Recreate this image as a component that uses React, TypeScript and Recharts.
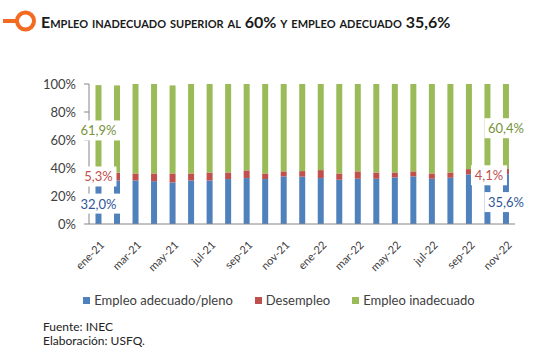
import React from 'react'
import { BarChart, Bar, XAxis, YAxis, LabelList } from 'recharts'

const months = [
  'ene-21', 'feb-21', 'mar-21', 'abr-21', 'may-21', 'jun-21', 'jul-21', 'ago-21', 'sep-21', 'oct-21', 'nov-21', 'dic-21',
  'ene-22', 'feb-22', 'mar-22', 'abr-22', 'may-22', 'jun-22', 'jul-22', 'ago-22', 'sep-22', 'oct-22', 'nov-22',
]
const adecuado = [32.0, 31.1, 31.1, 30.6, 29.7, 31.1, 31.1, 32.1, 32.8, 32.1, 34.0, 33.8, 32.8, 31.6, 32.3, 32.3, 33.3, 34.0, 32.3, 33.0, 35.4, 35.4, 35.6]
const desempleo = [5.3, 5.5, 5.0, 5.5, 6.4, 5.0, 5.7, 4.7, 5.5, 4.0, 3.6, 4.0, 5.7, 4.5, 5.3, 4.5, 3.5, 3.6, 3.8, 3.8, 3.8, 3.8, 4.1]
const inadecuado = [61.9, 62.4, 63.9, 63.9, 62.9, 63.9, 63.2, 63.2, 61.7, 63.9, 62.4, 62.2, 61.5, 63.9, 62.4, 63.2, 63.2, 62.4, 63.9, 63.2, 60.8, 60.8, 60.4]
const yTicks = [0, 20, 40, 60, 80, 100]

const data = months.map((m, i) => ({
  mes: m,
  adecuado: adecuado[i],
  desempleo: desempleo[i],
  inadecuado: inadecuado[i],
}))

const BLUE = '#4F81BD'
const RED = '#C0504D'
const GREEN = '#9BBB59'
const FONT = 'Lato, "Open Sans", sans-serif'

const fmt = (v: number) => v.toFixed(1).replace('.', ',') + '%'

// labels only on first and last bar, white box behind
const makeLabel = (color: string, offsets: Record<number, [number, number]>) => (props: any) => {
  const { x, y, width, height, value, index } = props
  const off = offsets[index]
  if (!off) return null
  const cx = Number(x) + Number(width) / 2 + off[0]
  const cy = Number(y) + Number(height) / 2 + off[1]
  const txt = fmt(Number(value))
  const w = txt.length * 7 + 8
  return (
    <g>
      <rect x={cx - w / 2} y={cy - 10} width={w} height={20} fill="#fff" />
      <text x={cx} y={cy} dy={5} textAnchor="middle" fontSize={13} fontFamily={FONT} fill={color}>
        {txt}
      </text>
    </g>
  )
}

const XTick = ({ x, y, payload }: any) => (
  <g transform={`translate(${x + 4},${y + 11})`}>
    <text x={0} y={0} dy={4} textAnchor="end" transform="rotate(-45)" fontSize={11} fontFamily={FONT} fill="#404040">
      {payload.value}
    </text>
  </g>
)

export default function App() {
  return (
    <div style={{ position: 'absolute', left: 0, top: 0, width: 558, height: 358, background: '#fff', fontFamily: FONT }}>
      <svg width={558} height={40} style={{ position: 'absolute', left: 0, top: 0 }}>
        <line x1={3} y1={21} x2={16} y2={21} stroke="#F26B21" strokeWidth={4} />
        <circle cx={25.5} cy={21} r={8.5} fill="none" stroke="#F26B21" strokeWidth={4} />
        <text x={41} y={28} fontSize={16} fontWeight="bold" fontFamily={FONT} fill="#1a1a1a" style={{ fontVariant: 'small-caps' }}>
          Empleo inadecuado superior al 60% y empleo adecuado 35,6%
        </text>
      </svg>

      <div style={{ position: 'absolute', left: 0, top: 0 }}>
        <BarChart
          width={558}
          height={290}
          data={data}
          margin={{ top: 84, right: 43, left: 39, bottom: 0 }}
          barCategoryGap="35%"
        >
          <XAxis
            dataKey="mes"
            interval={1}
            tick={<XTick />}
            tickLine={false}
            axisLine={{ stroke: '#868686' }}
            height={66}
          />
          <YAxis
            domain={[0, 100]}
            ticks={yTicks}
            tickFormatter={(v: number) => `${v}%`}
            tick={{ fontSize: 13, fontFamily: FONT, fill: '#404040' }}
            axisLine={{ stroke: '#868686' }}
            tickLine={{ stroke: '#868686' }}
            tickSize={5}
            tickMargin={8}
            width={50}
            allowDataOverflow
          />
          <Bar dataKey="adecuado" stackId="a" fill={BLUE} isAnimationActive={false}>
            <LabelList dataKey="adecuado" content={makeLabel('#2F5597', { 0: [0, 2], 22: [0, 3] })} />
          </Bar>
          <Bar dataKey="desempleo" stackId="a" fill={RED} isAnimationActive={false}>
            <LabelList dataKey="desempleo" content={makeLabel(RED, { 0: [0, 1], 22: [-17, 4] })} />
          </Bar>
          <Bar dataKey="inadecuado" stackId="a" fill={GREEN} isAnimationActive={false}>
            <LabelList dataKey="inadecuado" content={makeLabel('#77933C', { 0: [0, 2], 22: [0, 2] })} />
          </Bar>
        </BarChart>
      </div>

      <div style={{ position: 'absolute', top: 292, left: 0, width: 558, display: 'flex', justifyContent: 'center', gap: 22, fontSize: 13, color: '#404040' }}>
        {[
          ['Empleo adecuado/pleno', BLUE],
          ['Desempleo', RED],
          ['Empleo inadecuado', GREEN],
        ].map(([name, c]) => (
          <div key={name} style={{ display: 'flex', alignItems: 'center', gap: 4 }}>
            <div style={{ width: 7, height: 7, background: c }} />
            <span>{name}</span>
          </div>
        ))}
      </div>

      <div style={{ position: 'absolute', top: 320, left: 43, fontSize: 12, lineHeight: '14px', color: '#222' }}>
        <div>Fuente: INEC</div>
        <div>Elaboración: USFQ.</div>
      </div>
    </div>
  )
}
